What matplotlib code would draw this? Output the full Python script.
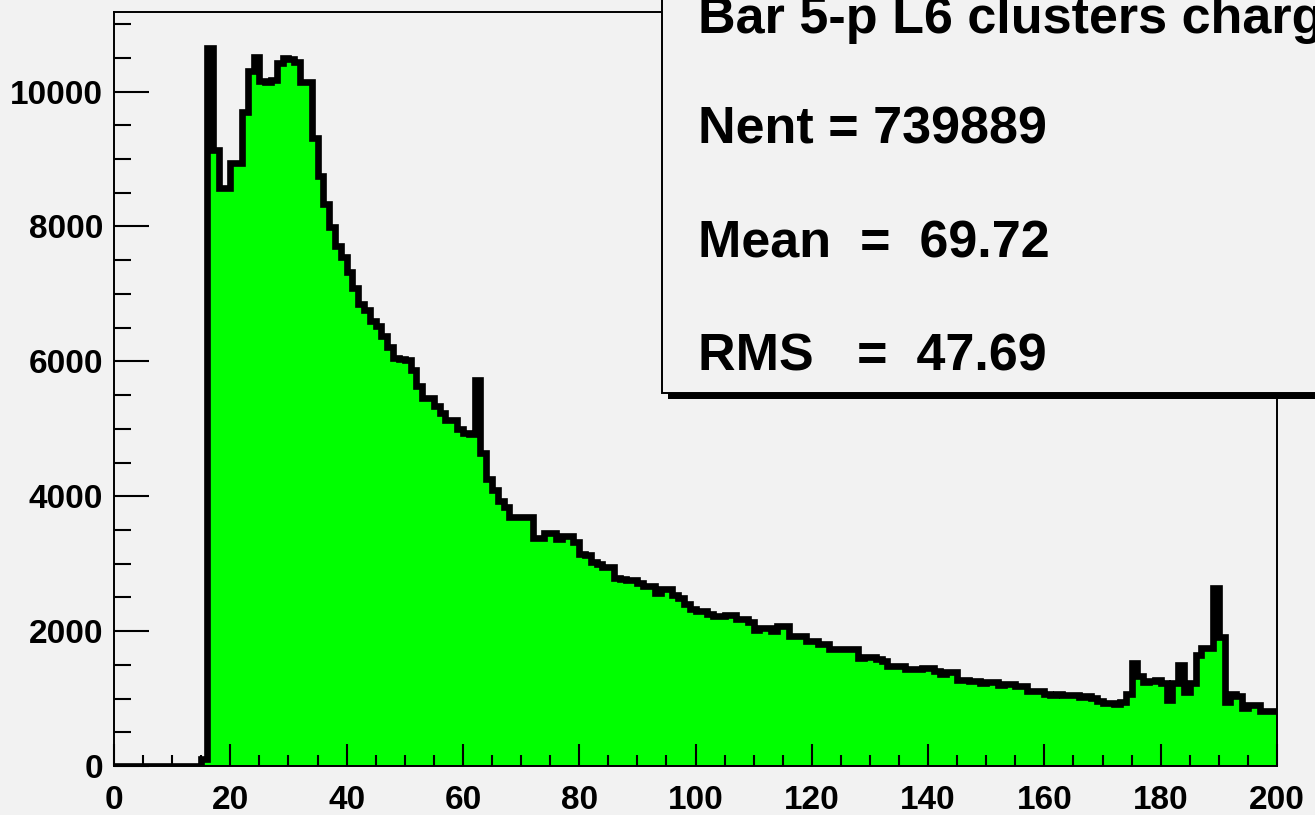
import numpy as np
import matplotlib
matplotlib.use("Agg")
import matplotlib.pyplot as plt
from matplotlib.patches import Rectangle
from matplotlib.ticker import MultipleLocator

# bin contents, one bin per unit of charge, 0..200
counts = [0] * 15 + [
    100, 10640, 9135, 8575, 8575, 8935, 8935, 9690, 10305, 10515,
    10150, 10135, 10170, 10430, 10495, 10480, 10445, 10145, 10140, 9315,
    8745, 8335, 7995, 7710, 7550, 7325, 7090, 6845, 6755, 6605,
    6525, 6375, 6210, 6050, 6030, 6020, 5870, 5635, 5460, 5455,
    5335, 5230, 5130, 5125, 4990, 4940, 4930, 5730, 4635, 4250,
    4090, 3925, 3845, 3695, 3690, 3690, 3685, 3385, 3380, 3455,
    3455, 3360, 3415, 3415, 3325, 3145, 3130, 3025, 2995, 2955,
    2950, 2790, 2780, 2765, 2765, 2715, 2675, 2675, 2565, 2625,
    2625, 2530, 2495, 2405, 2335, 2305, 2305, 2255, 2220, 2220,
    2235, 2235, 2185, 2185, 2130, 2015, 2045, 2045, 2000, 2070,
    2070, 1930, 1925, 1925, 1850, 1850, 1810, 1810, 1735, 1740,
    1735, 1740, 1735, 1600, 1615, 1615, 1580, 1555, 1480, 1480,
    1480, 1440, 1440, 1440, 1455, 1455, 1405, 1370, 1390, 1390,
    1280, 1280, 1255, 1255, 1230, 1245, 1245, 1205, 1215, 1215,
    1180, 1180, 1110, 1105, 1110, 1075, 1055, 1065, 1055, 1055,
    1050, 1020, 1045, 1005, 965, 935, 930, 915, 955, 1070,
    1530, 1340, 1250, 1265, 1275, 1225, 980, 1225, 1500, 1095,
    1225, 1640, 1755, 1755, 2635, 1910, 950, 1070, 1040, 860,
    900, 900, 810, 810, 810,
]
edges = np.arange(len(counts) + 1)

title = "Bar 5-p L6 clusters charge"
stats = ["Nent = 739889", "Mean  =  69.72", "RMS   =  47.69"]

bg = "#f2f2f2"
W, H = 1315, 815

fig = plt.figure(figsize=(W / 100, H / 100), dpi=100)
fig.patch.set_facecolor(bg)
ax = fig.add_axes([114 / W, 49 / H, 1163 / W, 754 / H])
ax.set_facecolor(bg)

ax.stairs(counts, edges, fill=True, color="#00ff00", lw=0)
line = ax.stairs(counts, edges, color="black", lw=4.8, baseline=None)
line.set_joinstyle("miter")

ax.set_xlim(0, 200)
ax.set_ylim(0, 11180)

ax.xaxis.set_major_locator(MultipleLocator(20))
ax.xaxis.set_minor_locator(MultipleLocator(5))
ax.yaxis.set_major_locator(MultipleLocator(2000))
ax.yaxis.set_minor_locator(MultipleLocator(500))

for s in ax.spines.values():
    s.set_linewidth(1.4)

ax.tick_params(axis="x", which="major", direction="in", length=16, width=1.5, pad=14)
ax.tick_params(axis="x", which="minor", direction="in", length=8, width=1.5)
ax.tick_params(axis="y", which="major", direction="in", length=25, width=1.5, pad=8)
ax.tick_params(axis="y", which="minor", direction="in", length=12, width=1.5)
for lab in ax.get_xticklabels() + ax.get_yticklabels():
    lab.set_fontfamily("Liberation Sans")
    lab.set_fontweight("bold")
    lab.set_fontsize(24)

# stats box with shadow, cut by the canvas edge
fig.add_artist(Rectangle((668 / W, (H - 399) / H), 1, 1, transform=fig.transFigure,
                         facecolor="black", edgecolor="none", zorder=5))
fig.add_artist(Rectangle((662 / W, (H - 393) / H), 1, 1, transform=fig.transFigure,
                         facecolor=bg, edgecolor="black", lw=1.4, zorder=6))

tx = 698 / W
fig.text(tx, (H - 33) / H, title, fontsize=37.5, fontweight="bold",
         family="Liberation Sans", va="baseline", zorder=7)
for txt, yb in zip(stats, [144, 258, 370]):
    fig.text(tx, (H - yb) / H, txt, fontsize=37.5, fontweight="bold",
             family="Liberation Sans", va="baseline", zorder=7)

fig.savefig("out.png", dpi=100, facecolor=bg)
